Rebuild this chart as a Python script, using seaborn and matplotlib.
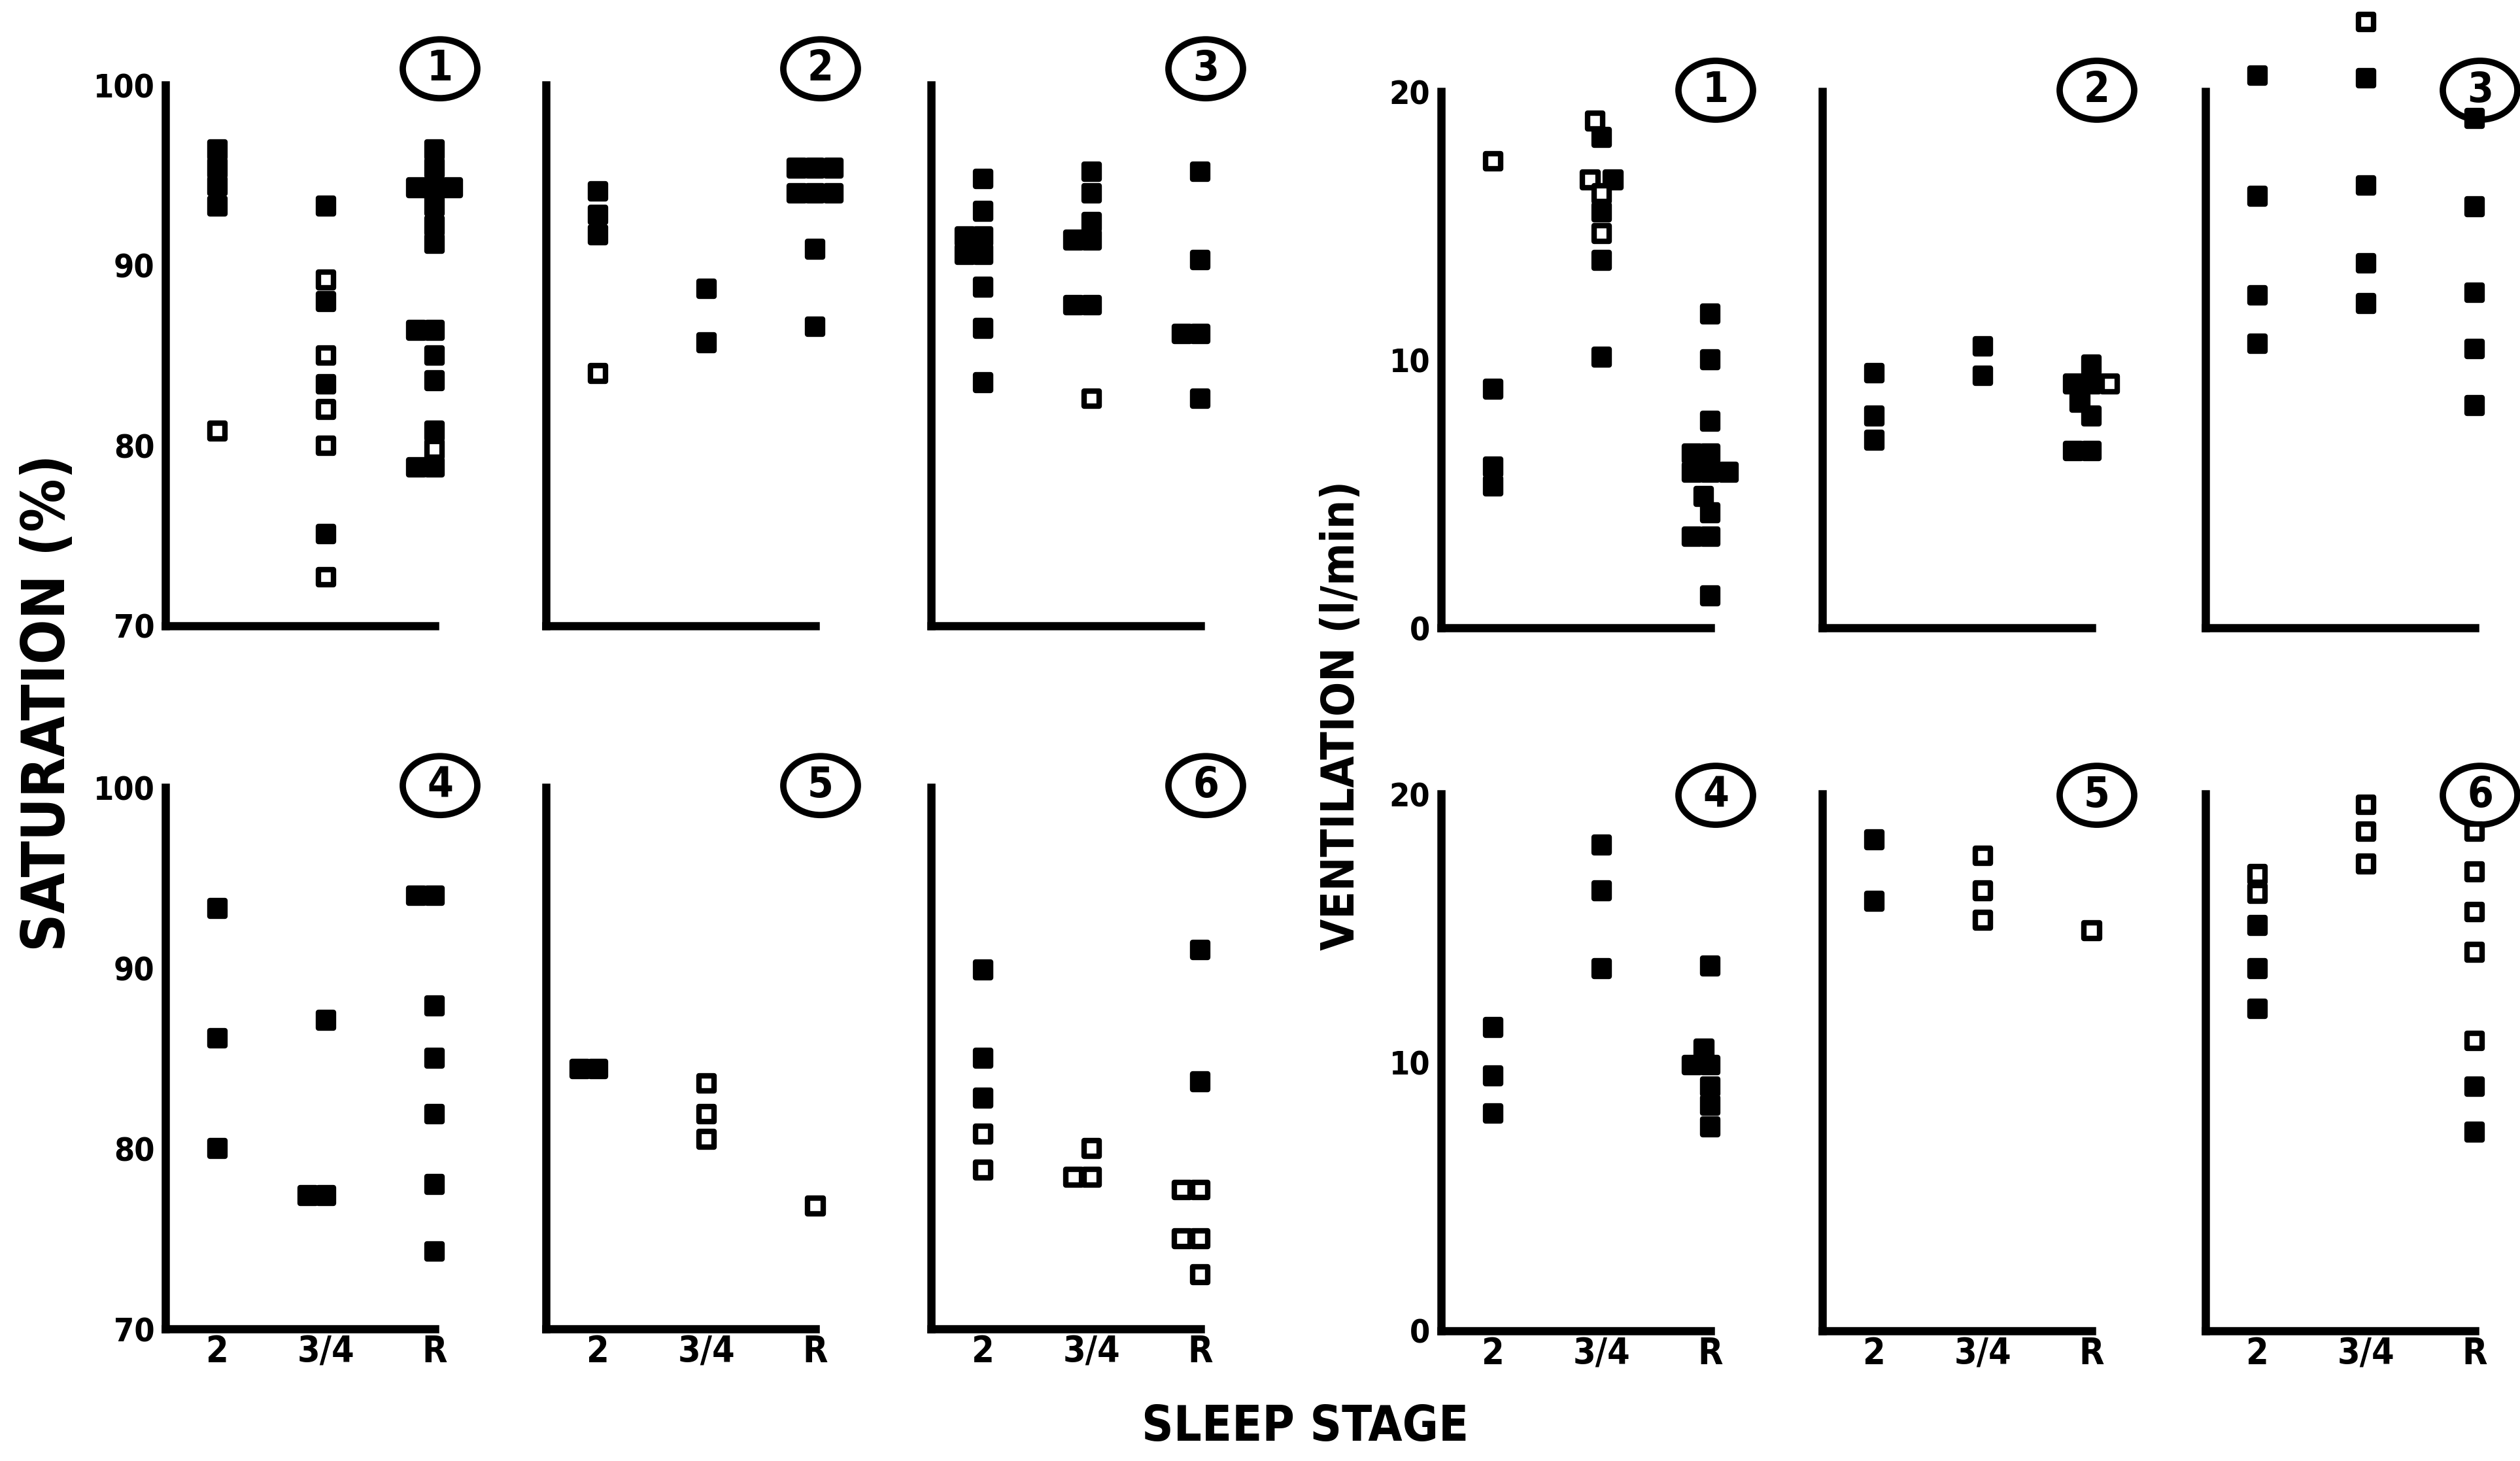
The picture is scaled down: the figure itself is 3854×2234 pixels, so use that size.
import matplotlib
matplotlib.use("Agg")
import matplotlib.pyplot as plt
import seaborn as sns
import pandas as pd
from matplotlib.patches import Ellipse
from matplotlib.transforms import ScaledTranslation

# ---------------- data ----------------
stages = ["2", "3/4", "R"]
sat_ticks = [70, 80, 90, 100]
vent_ticks = [0, 10, 20]
panel_labels = ["1", "2", "3", "4", "5", "6"]

# Saturation (%)  filled squares / open squares per sleep stage
sat1_filled = {"2": [96.4, 95.4, 94.4, 93.3], "3/4": [93.3, 88.0, 83.4, 75.1],
               "R": [96.4, 95.4, 94.3, 94.3, 94.3, 93.3, 92.2, 91.2, 86.4, 86.4, 85.0, 83.6, 80.8, 78.8, 78.8]}
sat1_open = {"2": [80.8], "3/4": [89.2, 85.0, 82.0, 80.0, 72.7], "R": [79.8]}
sat2_filled = {"2": [94.1, 92.8, 91.7], "3/4": [88.7, 85.7],
               "R": [95.4, 95.4, 95.4, 94.0, 94.0, 94.0, 90.9, 86.6]}
sat2_open = {"2": [84.0], "3/4": [], "R": []}
sat3_filled = {"2": [94.8, 93.0, 91.6, 91.6, 90.6, 90.6, 88.8, 86.5, 83.5],
               "3/4": [95.2, 94.0, 92.4, 91.4, 91.4, 87.8, 87.8], "R": [95.2, 90.3, 86.2, 86.2, 82.6]}
sat3_open = {"2": [], "3/4": [82.6], "R": []}
sat4_filled = {"2": [93.3, 86.1, 80.0], "3/4": [87.1, 77.4, 77.4],
               "R": [94.0, 94.0, 87.9, 85.0, 81.9, 78.0, 74.3]}
sat4_open = {"2": [], "3/4": [], "R": []}
sat5_filled = {"2": [84.4, 84.4], "3/4": [], "R": []}
sat5_open = {"2": [], "3/4": [83.6, 81.9, 80.5], "R": [76.8]}
sat6_filled = {"2": [89.9, 85.0, 82.8], "3/4": [], "R": [91.0, 83.7]}
sat6_open = {"2": [80.8, 78.8], "3/4": [80.0, 78.4, 78.4], "R": [77.7, 77.7, 75.0, 75.0, 73.0]}

# Ventilation (l/min)
vent1_filled = {"2": [8.9, 6.0, 5.3], "3/4": [18.3, 16.7, 15.5, 13.7, 10.1],
                "R": [11.7, 10.0, 7.7, 6.5, 6.5, 5.8, 5.8, 5.8, 4.9, 4.3, 3.4, 3.4, 1.2]}
vent1_open = {"2": [17.4], "3/4": [18.9, 16.7, 16.2, 14.7], "R": []}
vent2_filled = {"2": [9.5, 7.9, 7.0], "3/4": [10.5, 9.4], "R": [9.8, 9.1, 9.1, 8.4, 7.9, 6.6, 6.6]}
vent2_open = {"2": [], "3/4": [], "R": [9.1]}
vent3_filled = {"2": [20.6, 16.1, 12.4, 10.6], "3/4": [20.5, 16.5, 13.6, 12.1],
                "R": [19.0, 15.7, 12.5, 10.4, 8.3]}
vent3_open = {"2": [], "3/4": [22.6], "R": []}
vent4_filled = {"2": [11.3, 9.5, 8.1], "3/4": [18.1, 16.4, 13.5],
                "R": [13.6, 10.5, 9.9, 9.9, 9.1, 8.4, 7.6]}
vent4_open = {"2": [], "3/4": [], "R": []}
vent5_filled = {"2": [18.3, 16.0], "3/4": [], "R": []}
vent5_open = {"2": [], "3/4": [17.7, 16.4, 15.3], "R": [14.9]}
vent6_filled = {"2": [15.1, 13.5, 12.0], "3/4": [], "R": [9.1, 7.4]}
vent6_open = {"2": [17.0, 16.3], "3/4": [19.6, 18.6, 17.4], "R": [18.6, 17.1, 15.6, 14.1, 10.8]}

# ---------------- style ----------------
sns.set_theme(style="white")
plt.rcParams["font.family"] = ["DejaVu Sans"]
plt.rcParams["font.weight"] = "bold"
plt.rcParams["font.stretch"] = "condensed"

W, H = 3854, 2234
fig = plt.figure(figsize=(W / 100, H / 100), dpi=100)
fig.patch.set_facecolor("white")

col_x = [253, 835, 1424, 2204, 2787, 3373]
unit = 166
xlo, xhi = -0.48, 2.4
row_px = {("sat", 0): (957, 130), ("vent", 0): (960, 140),
          ("sat", 1): (2032, 1204), ("vent", 1): (2035, 1214)}
circle_dy = {("sat", 0): 0.9, ("vent", 0): 0.1, ("sat", 1): 0.1, ("vent", 1): -0.1}

panels = [
    (sat1_filled, sat1_open, "sat", 0, 0, panel_labels[0]),
    (sat2_filled, sat2_open, "sat", 1, 0, panel_labels[1]),
    (sat3_filled, sat3_open, "sat", 2, 0, panel_labels[2]),
    (vent1_filled, vent1_open, "vent", 3, 0, panel_labels[0]),
    (vent2_filled, vent2_open, "vent", 4, 0, panel_labels[1]),
    (vent3_filled, vent3_open, "vent", 5, 0, panel_labels[2]),
    (sat4_filled, sat4_open, "sat", 0, 1, panel_labels[3]),
    (sat5_filled, sat5_open, "sat", 1, 1, panel_labels[4]),
    (sat6_filled, sat6_open, "sat", 2, 1, panel_labels[5]),
    (vent4_filled, vent4_open, "vent", 3, 1, panel_labels[3]),
    (vent5_filled, vent5_open, "vent", 4, 1, panel_labels[4]),
    (vent6_filled, vent6_open, "vent", 5, 1, panel_labels[5]),
]


def frame(filled, opened):
    rows = []
    for st in stages:
        for v in filled[st]:
            rows.append((st, v, "filled"))
        for v in opened[st]:
            rows.append((st, v, "open"))
    return pd.DataFrame(rows, columns=["stage", "value", "kind"])


LW = 9
axes = []
for filled, opened, kind, c, r, lab in panels:
    b, t = row_px[(kind, r)]
    ax = fig.add_axes([col_x[c] / W, 1 - b / H, (xhi - xlo) * unit / W, (b - t) / H])
    axes.append(ax)
    ax.set_facecolor("none")
    df = frame(filled, opened)
    sns.swarmplot(data=df, x="stage", y="value", hue="kind", order=stages,
                  hue_order=["filled", "open"],
                  palette={"filled": "black", "open": "white"},
                  marker="s", size=13, edgecolor="black", linewidth=6,
                  legend=False, ax=ax)
    for coll in ax.collections:
        coll.set_clip_on(False)
    ticks = sat_ticks if kind == "sat" else vent_ticks
    lo, hi = ticks[0], ticks[-1]
    ax.set_xlim(xlo, xhi)
    ax.set_ylim(lo, hi)
    ax.set_xlabel("")
    ax.set_ylabel("")
    for s in ["top", "right"]:
        ax.spines[s].set_visible(False)
    for s in ["left", "bottom"]:
        ax.spines[s].set_linewidth(LW)
        ax.spines[s].set_color("black")
        ax.spines[s].set_capstyle("projecting")
    ax.spines["left"].set_bounds(lo, hi)
    ax.spines["bottom"].set_bounds(xlo, 2)
    ax.set_yticks(ticks)
    ax.set_xticks([0, 1, 2])
    ax.set_xticklabels(stages)
    ax.tick_params(axis="both", direction="in", length=26, width=LW, color="black",
                   labelcolor="black")
    ax.tick_params(axis="y", pad=12, labelsize=36, labelleft=(c in (0, 3)))
    ax.tick_params(axis="x", pad=6, labelsize=40, labelbottom=(r == 1))
    ax.grid(False)

    # circled panel number
    cx = 2.05
    cy = hi + circle_dy[(kind, r)] * (1.0 if kind == "sat" else 0.5)
    trans = fig.dpi_scale_trans + ScaledTranslation(cx, cy, ax.transData)
    ell = Ellipse((0, 0), 1.14, 0.9, transform=trans, fill=False,
                  lw=7, ec="black", clip_on=False)
    ax.add_artist(ell)
    ax.text(cx, cy, lab, ha="center", va="center", fontsize=46,
            fontweight="bold", color="black", clip_on=False)

fig.text(74 / W, 1 - 1075 / H, "SATURATION (%)", rotation=90, ha="center",
         va="center", fontsize=65, fontweight="bold", color="black")
fig.text(2052 / W, 1 - 1094 / H, "VENTILATION (l/min)", rotation=90, ha="center",
         va="center", fontsize=50, fontweight="bold", color="black")
fig.text(1996 / W, 1 - 2183 / H, "SLEEP STAGE", ha="center", va="center",
         fontsize=54, fontweight="bold", color="black")

# lay the swarms out with the nominal marker size, then freeze the positions
# and draw the squares slightly larger so that neighbours touch as in the print
fig.canvas.draw()
for ax in axes:
    for coll in ax.collections:
        if "draw" in coll.__dict__:
            del coll.draw
        coll.set_sizes([17 ** 2])

fig.savefig("out.png", dpi=100, facecolor="white")
